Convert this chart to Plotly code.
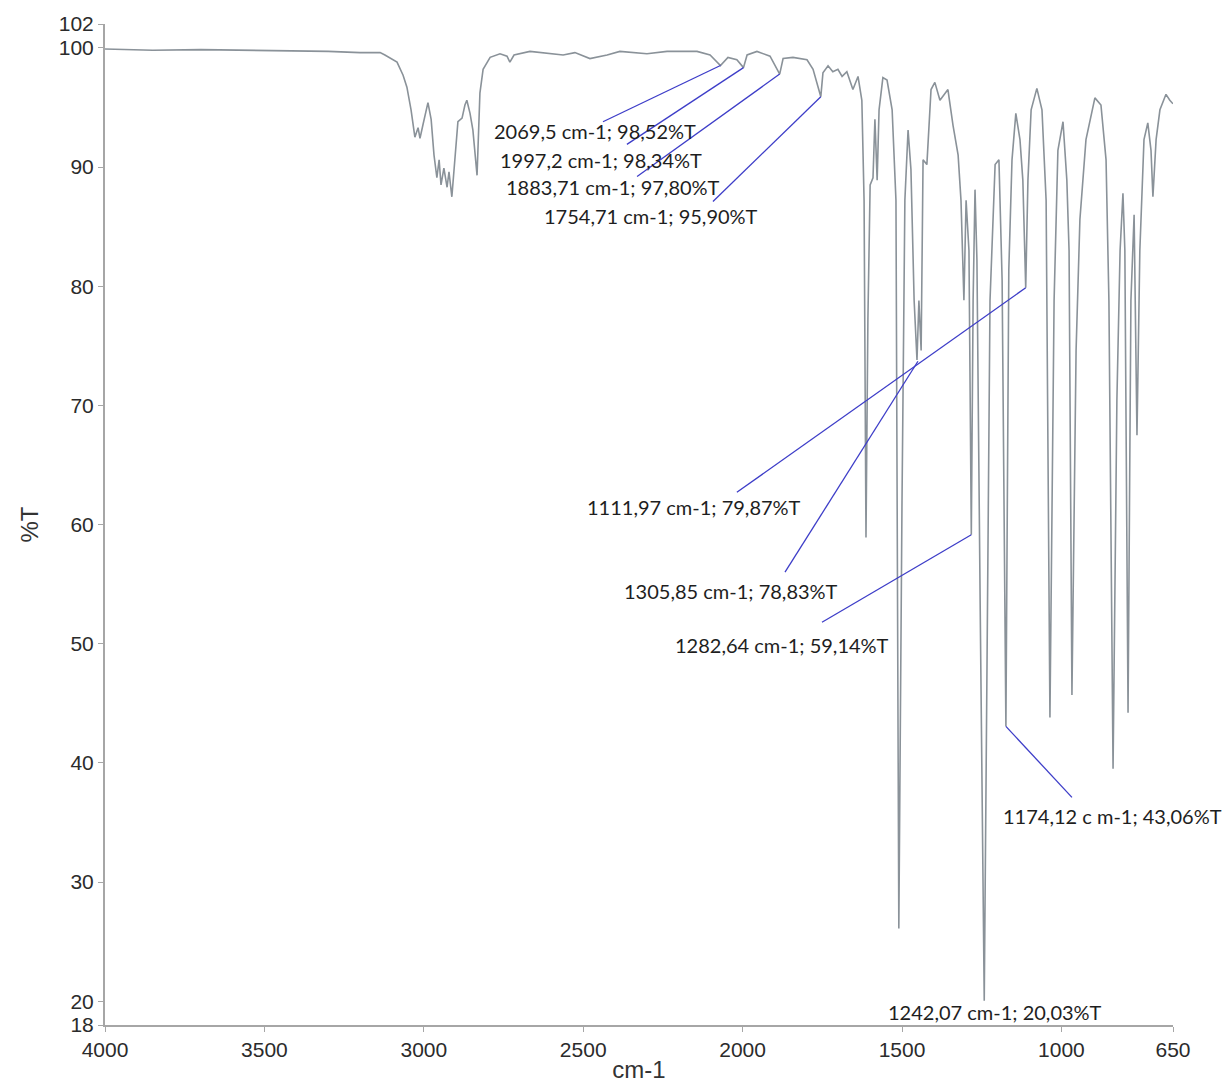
import plotly.graph_objects as go

# ---- spectrum (wavenumber cm-1, %T) ----
wavenumber = [4000, 3850, 3700, 3550, 3400, 3300, 3200, 3137, 3122, 3084, 3065, 3053, 3040,
              3028, 3018, 3012, 3003, 2987, 2977, 2968, 2959, 2952, 2946, 2937, 2927, 2921,
              2912, 2902, 2893, 2880, 2871, 2865, 2855, 2846, 2833, 2824, 2814, 2792, 2761,
              2739, 2730, 2717, 2667, 2563, 2526, 2479, 2425, 2385, 2300, 2237, 2143, 2102,
              2069.5, 2046, 2018, 1997.2, 1986, 1955, 1914, 1883.71, 1873, 1842, 1798, 1779,
              1754.71, 1748, 1732, 1717, 1701, 1688, 1673, 1654, 1638, 1626, 1619, 1613,
              1607, 1600, 1591, 1585, 1578, 1572, 1560, 1547, 1531, 1519, 1510, 1500, 1491,
              1481, 1472, 1462, 1453, 1447, 1440, 1434, 1422, 1409, 1397, 1381, 1356, 1340,
              1324, 1315, 1305.85, 1299, 1290, 1282.64, 1277, 1271, 1265, 1255, 1242.07, 1233,
              1224, 1208, 1196, 1186, 1174.12, 1165, 1155, 1143, 1130, 1121, 1111.97, 1105,
              1095, 1077, 1061, 1048, 1036, 1023, 1011, 995, 983, 976, 967, 954, 942, 923,
              895, 876, 860, 851, 838, 826, 816, 807, 801, 791, 782, 772, 763, 754, 741, 729,
              719, 713, 703, 691, 672, 660, 650]
transmittance = [99.9, 99.8, 99.85, 99.8, 99.75, 99.7, 99.6, 99.6, 99.4, 98.8, 97.7, 96.7, 94.8,
                 92.5, 93.3, 92.4, 93.5, 95.4, 94.0, 91.0, 89.1, 90.6, 88.5, 89.9, 88.3, 89.6,
                 87.5, 90.6, 93.8, 94.1, 95.2, 95.6, 94.5, 93.1, 89.3, 96.2, 98.2, 99.2, 99.5,
                 99.3, 98.8, 99.4, 99.7, 99.4, 99.6, 99.1, 99.4, 99.7, 99.5, 99.7, 99.7, 99.4,
                 98.52, 99.2, 99.0, 98.34, 99.4, 99.7, 99.3, 97.80, 99.1, 99.2, 99.0, 98.2,
                 95.90, 97.9, 98.5, 98.0, 98.2, 97.6, 98.0, 96.5, 97.6, 95.6, 87.2, 58.9,
                 77.2, 88.5, 89.1, 94.0, 88.9, 94.8, 97.5, 97.3, 94.8, 87.2, 26.1, 62.0, 87.2,
                 93.1, 89.8, 78.8, 73.8, 78.8, 74.6, 90.6, 90.2, 96.5, 97.1, 95.6, 96.5, 93.5,
                 91.0, 87.2, 78.83, 87.2, 83.0, 59.14, 78.8, 88.1, 82.2, 53.7, 20.03, 49.5,
                 78.8, 90.2, 90.6, 80.5, 43.06, 81.4, 90.6, 94.5, 92.3, 88.9, 79.87, 88.9,
                 94.8, 96.6, 94.8, 87.2, 43.8, 78.8, 91.4, 93.8, 88.9, 83.0, 45.7, 74.6, 85.6, 92.3,
                 95.8, 95.2, 90.6, 78.8, 39.5, 70.4, 83.0, 87.8, 83.0, 44.2, 78.8, 86.0, 67.5, 83.0,
                 92.3, 93.7, 91.4, 87.5, 92.3, 94.8, 96.1, 95.6, 95.3]

# ---- peak labels ----
peak_labels = ["2069,5 cm-1; 98,52%T", "1997,2 cm-1; 98,34%T", "1883,71 cm-1; 97,80%T",
               "1754,71 cm-1; 95,90%T", "1111,97 cm-1; 79,87%T", "1305,85 cm-1; 78,83%T",
               "1282,64 cm-1; 59,14%T", "1174,12 c m-1; 43,06%T", "1242,07 cm-1; 20,03%T"]
# where the leader lines touch the spectrum
leader_head_wn = [2069.5, 1997.2, 1883.71, 1754.71, 1111.97, 1450, 1282.64, 1174.12, None]
leader_head_t = [98.52, 98.34, 97.80, 95.90, 79.87, 73.7, 59.14, 43.06, None]
# where the leader lines start, next to the labels
leader_tail_wn = [2438, 2363, 2331, 2093, 2018, 1867, 1751, 967, None]
leader_tail_t = [93.8, 91.9, 89.2, 87.1, 62.7, 56.0, 51.8, 37.1, None]
# label centres
label_wn = [2463, 2443, 2408, 2287, 2152, 2035, 1876, 841, 1207]
label_t = [93.0, 90.6, 88.3, 85.9, 61.5, 54.4, 49.9, 35.5, 19.1]

y_ticks = [18, 20, 30, 40, 50, 60, 70, 80, 90, 100, 102]
x_ticks = [4000, 3500, 3000, 2500, 2000, 1500, 1000, 650]

fig = go.Figure()
fig.add_trace(go.Scatter(x=wavenumber, y=transmittance, mode="lines",
                         line=dict(color="#8a9299", width=1.6), showlegend=False,
                         hoverinfo="skip"))

for i, lab in enumerate(peak_labels):
    if leader_head_wn[i] is not None:
        fig.add_shape(type="line", xref="x", yref="y",
                      x0=leader_tail_wn[i], y0=leader_tail_t[i],
                      x1=leader_head_wn[i], y1=leader_head_t[i],
                      line=dict(color="#3d3dc8", width=1.3))
    fig.add_annotation(x=label_wn[i], y=label_t[i], text=lab, showarrow=False,
                       xref="x", yref="y",
                       font=dict(family="Lato, Open Sans, sans-serif", size=20, color="#1e1e1e"))

axis_font = dict(family="Liberation Sans, Arial, sans-serif", size=21, color="#2b2b2b")
title_font = dict(family="Liberation Sans, Arial, sans-serif", size=24, color="#333333")
fig.update_layout(
    width=1223, height=1083,
    margin=dict(l=105, r=50, t=24, b=58),
    paper_bgcolor="white", plot_bgcolor="white",
    xaxis=dict(range=[4000, 650], tickvals=x_ticks, ticktext=[str(v) for v in x_ticks],
               showgrid=False, zeroline=False, showline=True, linecolor="#a6a6a6",
               linewidth=2, ticks="outside", ticklen=5, tickcolor="#a6a6a6",
               tickfont=axis_font, automargin=False,
               title=dict(text="cm-1", font=title_font, standoff=6)),
    yaxis=dict(range=[18, 102], tickvals=y_ticks, ticktext=[str(v) for v in y_ticks],
               showgrid=False, zeroline=False, showline=True, linecolor="#a6a6a6",
               linewidth=2, ticks="outside", ticklen=5, tickcolor="#a6a6a6",
               tickfont=axis_font, automargin=False,
               title=dict(text="%T", font=title_font, standoff=13)),
)

fig.write_html("out.html")
